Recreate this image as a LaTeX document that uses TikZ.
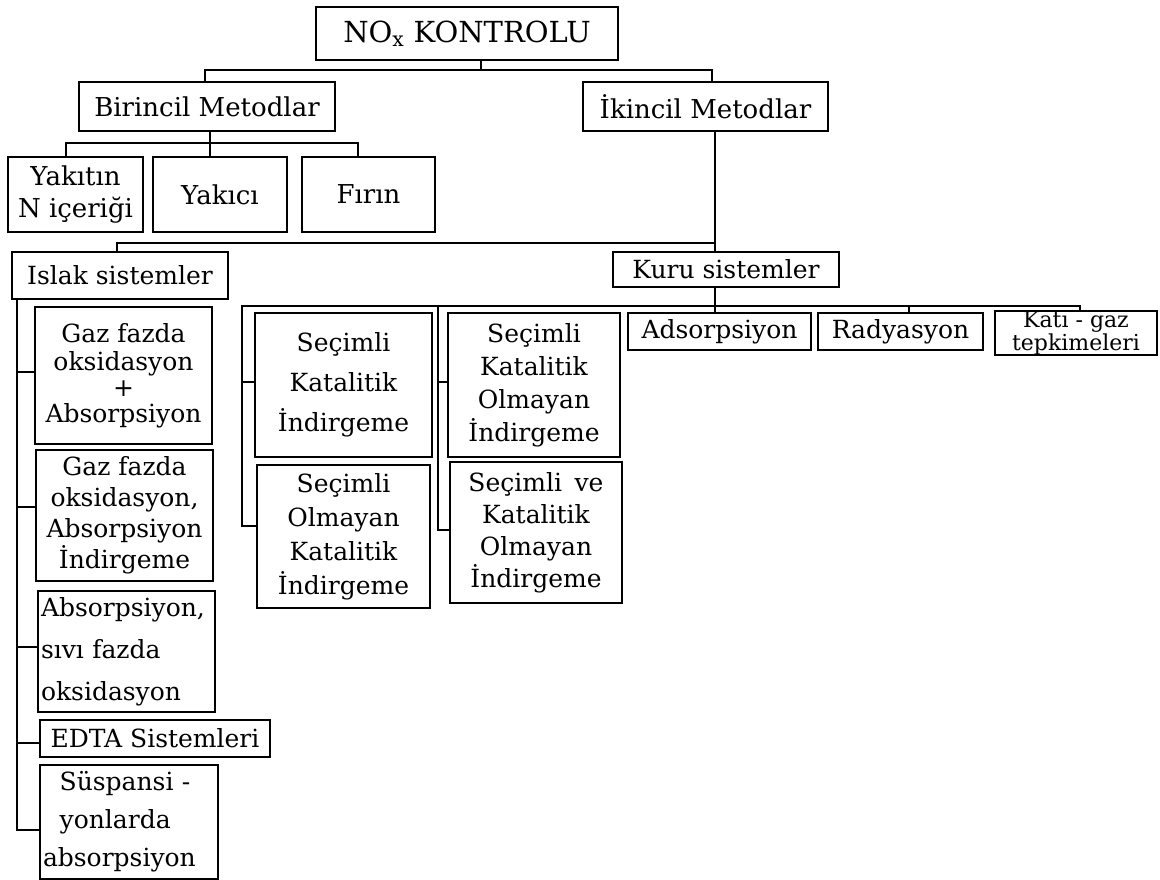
\documentclass[tikz,border=0pt]{standalone}
\usepackage{fontspec}
\setmainfont{DejaVu Serif}
\begin{document}
\begin{tikzpicture}[x=1pt,y=-1pt,
  bx/.style={draw, line width=1.8pt, inner sep=0pt, align=center, font=\fontsize{26}{32}\selectfont},
  ln/.style={line width=1.8pt}]
\fill[white] (0,0) rectangle (1160,880);
\useasboundingbox (0,0) rectangle (1160,880);
% top levels
\node[bx, minimum width=302pt, minimum height=53pt, font=\fontsize{29}{34}\selectfont] (nox) at (467,33.5) {NO\textsubscript{x} KONTROLU};
\node[bx, minimum width=256pt, minimum height=49pt] (bir) at (207,106.5) {Birincil Metodlar};
\node[bx, minimum width=245pt, minimum height=49pt] (iki) at (705.5,106.5) {İkincil Metodlar};
% primary
\node[bx, minimum width=135pt, minimum height=75pt] (yakitin) at (75.5,194.5) {Yakıtın\\N içeriği};
\node[bx, minimum width=134pt, minimum height=75pt] (yakici) at (220,194.5) {Yakıcı};
\node[bx, minimum width=133pt, minimum height=75pt] (firin) at (368.5,194.5) {Fırın};
% secondary
\node[bx, minimum width=216pt, minimum height=47pt, font=\fontsize{25}{30}\selectfont] (islak) at (120,275.5) {Islak sistemler};
\node[bx, minimum width=226pt, minimum height=35pt, font=\fontsize{25}{30}\selectfont] (kuru) at (726,269.5) {Kuru sistemler};
% wet column
\node[bx, minimum width=177pt, minimum height=137pt, font=\fontsize{25}{28}\selectfont] (g1) at (123.5,375.5) {Gaz fazda\\oksidasyon\\[-2pt]+\\[-2pt]Absorpsiyon};
\node[bx, minimum width=177pt, minimum height=131pt, font=\fontsize{25}{31}\selectfont] (g2) at (124.5,515.5) {Gaz fazda\\oksidasyon,\\Absorpsiyon\\İndirgeme};
\node[bx, minimum width=177pt, minimum height=121pt, text width=171pt, inner xsep=3pt, align=left, font=\fontsize{25}{42}\selectfont] (g3) at (126.5,651.5) {Absorpsiyon,\\ sıvı fazda\\oksidasyon};
\node[bx, minimum width=230pt, minimum height=37pt, font=\fontsize{25}{30}\selectfont] (edta) at (155,738.5) {EDTA Sistemleri};
\node[bx, minimum width=178pt, minimum height=114pt, text width=172pt, inner xsep=3pt, align=left, font=\fontsize{25}{38}\selectfont] (susp) at (129,822) {\ \ Süspansi -\\\ \ yonlarda\\absorpsiyon};
% dry column
\node[bx, minimum width=177pt, minimum height=144pt, font=\fontsize{25}{40}\selectfont] (s1) at (343.5,385) {Seçimli\\Katalitik\\İndirgeme};
\node[bx, minimum width=173pt, minimum height=143pt, font=\fontsize{25}{34}\selectfont] (s2) at (343.5,536.5) {Seçimli\\Olmayan\\Katalitik\\İndirgeme};
\node[bx, minimum width=172pt, minimum height=144pt, font=\fontsize{25}{33}\selectfont] (s3) at (534,385) {Seçimli\\Katalitik\\Olmayan\\İndirgeme};
\node[bx, minimum width=172pt, minimum height=141pt, font=\fontsize{25}{32}\selectfont] (s4) at (536,532.5) {Seçimli\enspace ve\\Katalitik\\Olmayan\\İndirgeme};
\node[bx, minimum width=183pt, minimum height=37pt, font=\fontsize{25}{30}\selectfont] (ads) at (719.5,331.5) {Adsorpsiyon};
\node[bx, minimum width=165pt, minimum height=37pt, font=\fontsize{25}{30}\selectfont] (rad) at (900.5,331.5) {Radyasyon};
\node[bx, minimum width=162pt, minimum height=41pt, font=\fontsize{22}{19}\selectfont] (kati) at (1076,333) {Katı - gaz\\tepkimeleri};
% junctions
\coordinate (j0) at (481,70);
\coordinate (j1) at (210,143);
\coordinate (j2) at (715,243);
\coordinate (k0) at (242,306);
\coordinate (k1) at (438,306);
% connectors
\draw[ln] ([xshift=14pt]nox.south) -- (j0);
\draw[ln] ([xshift=-2pt]bir.north) |- (j0) -| ([xshift=6.5pt]iki.north);
\draw[ln] ([xshift=3pt]bir.south) -- ([xshift=-10pt]yakici.north);
\draw[ln] ([xshift=-9.5pt]yakitin.north) |- (j1) -| ([xshift=-10.5pt]firin.north);
\draw[ln] ([xshift=9.5pt]iki.south) -- ([xshift=-11pt]kuru.north);
\draw[ln] ([xshift=-3pt]islak.north) |- (j2);
% wet branch
\draw[ln] ([xshift=-103pt]islak.south) |- ([yshift=-8pt]susp.west);
\draw[ln] ([yshift=3.5pt]g1.west) -- ++(-18,0);
\draw[ln] ([yshift=8.5pt]g2.west) -- ++(-19,0);
\draw[ln] ([yshift=4.5pt]g3.west) -- ++(-21,0);
\draw[ln] ([yshift=-4.5pt]edta.west) -- ++(-23,0);
% dry branch
\draw[ln] ([xshift=-11pt]kuru.south) -- ([xshift=-4.5pt]ads.north);
\draw[ln] ([yshift=10.5pt]s2.west) -| (k0) -| ([xshift=4pt]kati.north);
\draw[ln] ([yshift=3pt]s1.west) -- ++(-13,0);
\draw[ln] ([yshift=2.5pt]s4.west) -| (k1);
\draw[ln] ([yshift=3pt]s3.west) -- ++(-10,0);
\draw[ln] ([xshift=8.5pt]rad.north) -- ++(0,-7);
\end{tikzpicture}
\end{document}
